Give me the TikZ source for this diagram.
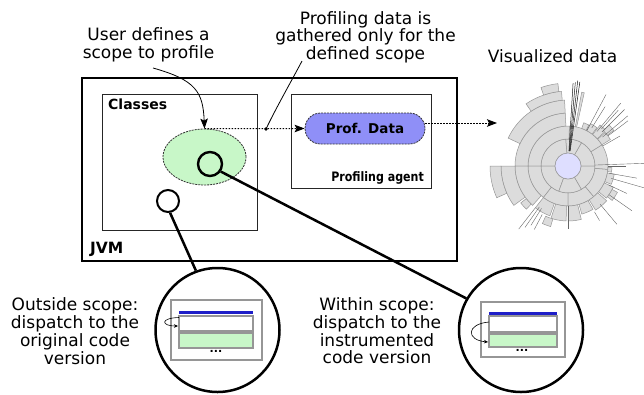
\documentclass[tikz,border=0pt]{standalone}
\usepackage{fontspec}
\setmainfont{DejaVu Sans}
\usetikzlibrary{arrows.meta,shapes.geometric,shapes.misc}
\definecolor{scopegreen}{RGB}{200,247,200}
\definecolor{profblue}{RGB}{143,143,247}
\definecolor{sbgray}{RGB}{220,220,220}
\definecolor{sbedge}{RGB}{150,150,150}
\definecolor{sbcenter}{RGB}{222,222,255}
\definecolor{codeblue}{RGB}{30,30,200}
\definecolor{codeedge}{RGB}{150,150,150}
\newcommand\sbsec[4]{\filldraw[sb] (#1:#3) arc[start angle=#1, end angle=#2, radius=#3] -- (#2:#4) arc[start angle=#2, end angle=#1, radius=#4] -- cycle;}
\newcommand\sbspike[3]{\draw[sbline] (#1:#2) -- (#1:#3);}
\newcommand\sbdark[3]{\draw[sbdarkline] (#1:#2) -- (#1:#3);}
\begin{document}
\begin{tikzpicture}[x=1pt,y=-1pt,
  txt/.style={inner sep=0pt, align=center, font=\fontsize{17}{17.8}\selectfont},
  blabel/.style={inner sep=0pt, font=\bfseries\fontsize{#1}{#1}\selectfont},
  outerbox/.style={draw=black, line width=1.2pt, inner sep=0pt, minimum width=375pt, minimum height=183pt},
  innerbox/.style={draw=black!85, line width=0.9pt, inner sep=0pt},
  scopeell/.style={ellipse, draw=black!80, dash pattern=on 2pt off 1pt, line width=0.8pt, fill=scopegreen, inner sep=0pt, minimum width=83pt, minimum height=56pt},
  profpill/.style={rounded rectangle, draw=black!80, dash pattern=on 2pt off 1pt, line width=0.8pt, fill=profblue, inner sep=0pt, minimum width=120pt, minimum height=31pt},
  ring/.style={circle, draw=black, fill=white, inner sep=0pt},
  zoomline/.style={line width=2.5pt, draw=black},
  dotarrow/.style={dash pattern=on 1.6pt off 1.4pt, line width=1pt, -{Stealth[length=10pt,width=7.5pt,inset=2pt]}},
  thinarrow/.style={line width=0.8pt, -{Stealth[length=10pt,width=7.5pt,inset=2pt]}},
  sb/.style={fill=sbgray, draw=sbedge, line width=0.5pt},
  sbline/.style={draw=black!60, line width=0.4pt},
  sbdarkline/.style={draw=black!90, line width=0.5pt},
  mini/.style={draw=codeedge, line width=1.3pt},
  miniarrow/.style={line width=0.6pt, -{Stealth[length=4pt,width=3.5pt]}}
]
\useasboundingbox (0,0) rectangle (644,394);

% boxes
\node[outerbox] (jvm) at (269.5,169.5) {};
\node[innerbox, minimum width=155pt, minimum height=136pt] (classes) at (179.5,162) {};
\node[innerbox, minimum width=140pt, minimum height=94pt] (agent) at (361,141) {};
\node[blabel=15.5, anchor=base west] (jvmlbl) at (90,253) {JVM};
\node[blabel=14, anchor=base west] (classlbl) at (108,109) {Classes};
\node[blabel=13, anchor=base east] (agentlbl) at (424,181.5) {\scalebox{0.85}[1]{Profiling agent}};

% scope ellipse and profile data
\node[scopeell] (scope) at (204.5,157) {};
\node[profpill, font=\bfseries\fontsize{13.5}{13.5}\selectfont] (prof) at (365,128.5) {Prof. Data};

% small circles
\node[ring, fill=scopegreen, line width=2.4pt, minimum size=24pt] (inc) at (210,164) {};
\node[ring, line width=2pt, minimum size=22pt] (outc) at (168,201) {};

% big circles
\node[ring, line width=2.5pt, minimum size=124pt] (bigL) at (217.5,330) {};
\node[ring, line width=2.5pt, minimum size=124pt] (bigR) at (521,330) {};
\draw[zoomline] (outc.-80) -- (bigL.110);
\draw[zoomline] (inc.-35) -- (bigR.150);

% texts
\node[txt, anchor=north] (usertxt) at (148.5,27.2) {User defines a\\scope to profile};
\node[txt, anchor=north] (proftxt) at (365.5,11) {Profiling data is\\gathered only for the\\defined scope};
\node[txt, anchor=base] (vistxt) at (552.5,62) {Visualized data};
\node[txt, anchor=north] (outtxt) at (75,297.5) {Outside scope:\\dispatch to the\\original code\\version};
\node[txt, anchor=north] (intxt) at (377,297.3) {Within scope:\\dispatch to the\\instrumented\\code version};

% connectors
\coordinate (userstart) at (153,68);
\coordinate (leadtop) at (302,61);
\coordinate (leaddot) at (266,129);
\coordinate (visend) at (497,123);
\draw[thinarrow] (userstart) .. controls (196,80) and (203,92) .. (scope.north);
\draw[dotarrow] (scope.north) -- (prof.west);
\draw[dotarrow] ([yshift=5.5pt]prof.east) -- (visend);
\draw[line width=0.8pt] (leadtop) .. controls (292,80) and (276,108) .. (leaddot);
\fill (leaddot) circle (1.8);

% mini code boxes
\draw[mini, fill=white] (171,300) rectangle (262,360);
\draw[codeblue, line width=3pt] (179,312) -- (253,312);
\draw[mini, fill=white] (179,316) rectangle (253,331);
\draw[mini, fill=scopegreen] (179,333) rectangle (253,348);
\node[font=\bfseries\fontsize{11}{11}\selectfont, inner sep=0pt] (dotsL) at (216,351) {...};
\draw[miniarrow] (179,317.5) .. controls (160,318) and (161,326) .. (178,326);

\draw[mini, fill=white] (481,302) rectangle (565,357);
\draw[codeblue, line width=3pt] (489,313) -- (557,313);
\draw[mini, fill=white] (489,316) rectangle (557,332);
\draw[mini, fill=scopegreen] (489,334) rectangle (557,347);
\node[font=\bfseries\fontsize{11}{11}\selectfont, inner sep=0pt] (dotsR) at (522,350) {...};
\draw[miniarrow] (489,322) .. controls (466,324) and (466,340) .. (488,342);

% sunburst
\begin{scope}[shift={(568,166)}, y=1pt]
% ring 1
\sbsec{0}{60}{13}{27} \sbsec{60}{95}{13}{27} \sbsec{95}{180}{13}{27}
\sbsec{180}{250}{13}{27} \sbsec{250}{300}{13}{27} \sbsec{300}{360}{13}{27}
% ring 2
\sbsec{-5}{32}{27}{40} \sbsec{32}{88}{27}{40} \sbsec{88}{180}{27}{40}
\sbsec{180}{232}{27}{40} \sbsec{232}{270}{27}{40} \sbsec{270}{310}{27}{40} \sbsec{310}{355}{27}{40}
% ring 3
\sbsec{93}{180}{40}{53}
\sbsec{180}{228}{40}{53}
\sbsec{232}{250}{40}{53}
\sbsec{252}{268}{40}{55}
\sbsec{270}{284}{40}{55}
\sbsec{286}{300}{40}{50}
\sbsec{302}{318}{40}{52}
\sbsec{320}{335}{40}{50}
\sbsec{337}{350}{40}{47}
\sbsec{352}{358}{40}{44}
\sbsec{32}{42}{40}{50}
\sbsec{43}{52}{40}{52}
\sbsec{53}{62}{40}{48}
\sbsec{63}{70}{40}{46}
% ring 4
\sbsec{93}{155}{53}{66}
\sbsec{180}{216}{53}{67}
\sbsec{218}{226}{53}{60}
\sbsec{246}{254}{55}{63}
\sbsec{322}{332}{50}{56}
\sbsec{38}{45}{50}{58}
% ring 5, 6
\sbsec{95}{124}{66}{75}
\sbsec{180}{204}{67}{78}
\sbsec{97}{109}{75}{83}
\sbsec{77.5}{79.5}{40}{75}
% spikes
\sbdark{82}{15}{85} \sbdark{83.5}{15}{86} \sbdark{85}{15}{84} \sbdark{86.5}{15}{83}
\sbspike{62}{40}{81} \sbspike{58}{45}{70} \sbspike{50}{45}{82} \sbspike{48}{50}{75}
\sbspike{45}{48}{80} \sbspike{40}{45}{78} \sbspike{37}{50}{75} \sbspike{30}{40}{60}
\sbspike{2}{27}{76} \sbspike{0}{40}{58} \sbspike{-10}{42}{70} \sbspike{-16}{45}{79}
\sbspike{-25}{45}{65} \sbspike{-35}{50}{78} \sbspike{-50}{50}{76} \sbspike{-60}{53}{63}
\sbspike{270}{40}{63}
\sbspike{232}{53}{80} \sbspike{235}{50}{75} \sbspike{238}{50}{70} \sbspike{242}{55}{72}
\filldraw[fill=sbcenter, draw=sbedge, line width=0.5pt] (0,0) circle[radius=13];
\end{scope}
\end{tikzpicture}
\end{document}
